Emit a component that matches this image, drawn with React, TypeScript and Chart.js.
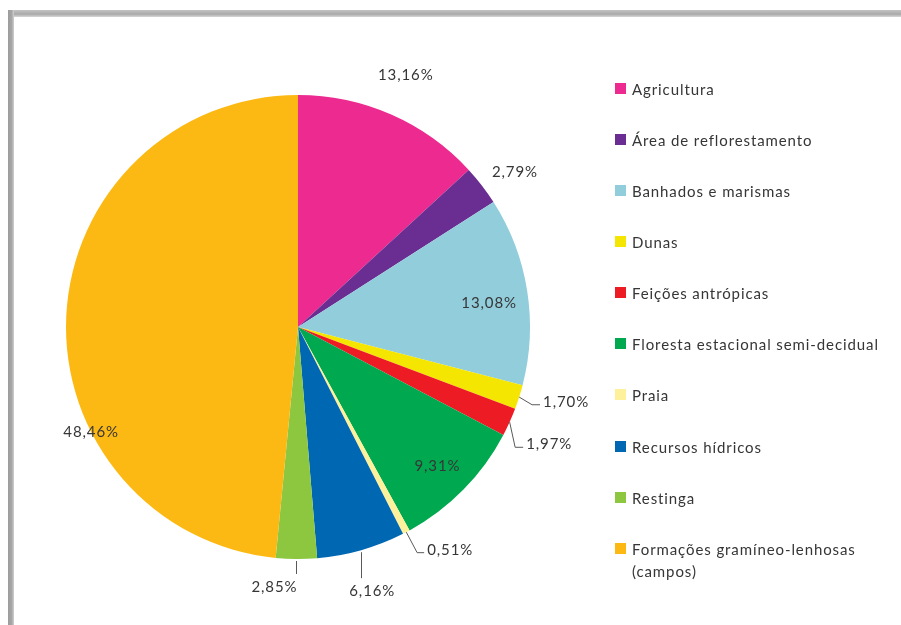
import React, { useEffect, useRef } from "react";
import { Chart, registerables } from "chart.js";

Chart.register(...registerables);

const categories = [
  "Agricultura",
  "Área de reflorestamento",
  "Banhados e marismas",
  "Dunas",
  "Feições antrópicas",
  "Floresta estacional semi-decidual",
  "Praia",
  "Recursos hídricos",
  "Restinga",
  "Formações gramíneo-lenhosas (campos)",
];
const legendLines = [
  ["Agricultura"],
  ["Área de reflorestamento"],
  ["Banhados e marismas"],
  ["Dunas"],
  ["Feições antrópicas"],
  ["Floresta estacional semi-decidual"],
  ["Praia"],
  ["Recursos hídricos"],
  ["Restinga"],
  ["Formações gramíneo-lenhosas", "(campos)"],
];
const values = [13.16, 2.79, 13.08, 1.7, 1.97, 9.31, 0.51, 6.16, 2.85, 48.46];
const valueLabels = ["13,16%", "2,79%", "13,08%", "1,70%", "1,97%", "9,31%", "0,51%", "6,16%", "2,85%", "48,46%"];
const colors = ["#ec2a8f", "#6a2d91", "#92cddc", "#f4e600", "#ed1c24", "#00a94f", "#fdf19b", "#0067b3", "#8dc63f", "#fdb913"];

// label placement styles: mode, radius factor, angle shift (deg), extra
type LabelStyle = { mode: "text" | "elbow" | "drop"; r?: number; dAng?: number; h?: number; len?: number; dx?: number };
const labelStyles: LabelStyle[] = [
  { mode: "text", r: 1.18, dAng: -0.5 },
  { mode: "text", r: 1.15, dAng: 2 },
  { mode: "text", r: 0.83, dAng: 2 },
  { mode: "elbow", r: 1.063, dAng: 0.8, h: 8 },
  { mode: "elbow", r: 1.07, dAng: 4.8, h: 8 },
  { mode: "text", r: 0.85, dAng: 0.5 },
  { mode: "elbow", r: 1.1, dAng: 0, h: 7 },
  { mode: "drop", len: 26, dx: 11 },
  { mode: "drop", len: 13, dx: -22 },
  { mode: "text", r: 1.0, dAng: -29.7 },
];

const FONT = "15px Lato, 'Open Sans', sans-serif";
const SPACING = "0.9px";
const TEXT = "#363636";
const LINE = "#595959";

const labelPlugin = {
  id: "sliceLabels",
  afterDatasetsDraw(chart: any) {
    const ctx = chart.ctx;
    const meta = chart.getDatasetMeta(0);
    ctx.save();
    ctx.font = FONT;
    try {
      (ctx as any).letterSpacing = SPACING;
    } catch (e) {}
    ctx.fillStyle = TEXT;
    ctx.strokeStyle = LINE;
    ctx.lineWidth = 1;
    meta.data.forEach((arc: any, i: number) => {
      const p = arc.getProps(["x", "y", "startAngle", "endAngle", "outerRadius"], true);
      const mid = (p.startAngle + p.endAngle) / 2;
      const st = labelStyles[i];
      const R = p.outerRadius;
      const text = valueLabels[i];
      if (st.mode === "text") {
        const a = mid + ((st.dAng || 0) * Math.PI) / 180;
        const x = p.x + Math.cos(a) * R * (st.r || 1);
        const y = p.y + Math.sin(a) * R * (st.r || 1);
        ctx.textAlign = "center";
        ctx.textBaseline = "middle";
        ctx.fillText(text, x, y);
      } else if (st.mode === "elbow") {
        const x0 = p.x + Math.cos(mid) * R;
        const y0 = p.y + Math.sin(mid) * R;
        const a = mid + ((st.dAng || 0) * Math.PI) / 180;
        const x1 = p.x + Math.cos(a) * R * (st.r || 1);
        const y1 = p.y + Math.sin(a) * R * (st.r || 1);
        const x2 = x1 + (st.h || 8);
        ctx.beginPath();
        ctx.moveTo(x0, y0);
        ctx.lineTo(x1, y1);
        ctx.lineTo(x2, y1);
        ctx.stroke();
        ctx.textAlign = "left";
        ctx.textBaseline = "middle";
        ctx.fillText(text, x2 + 3, y1 - 3);
      } else {
        const x0 = p.x + Math.cos(mid) * R;
        const y0 = p.y + Math.sin(mid) * R + 2;
        const y1 = y0 + (st.len || 12);
        ctx.beginPath();
        ctx.moveTo(Math.round(x0) + 0.5, y0);
        ctx.lineTo(Math.round(x0) + 0.5, y1);
        ctx.stroke();
        ctx.textAlign = "center";
        ctx.textBaseline = "middle";
        ctx.fillText(text, x0 + (st.dx || 0), y1 + 13);
      }
    });
    ctx.restore();
  },
};

export default function App() {
  const ref = useRef<HTMLCanvasElement>(null);
  useEffect(() => {
    document.body.style.margin = "0";
    document.body.style.overflow = "hidden";
    if (!ref.current) return;
    const chart = new Chart(ref.current, {
      type: "pie",
      data: {
        labels: categories,
        datasets: [
          {
            data: values,
            backgroundColor: colors,
            borderWidth: 0,
          },
        ],
      },
      options: {
        responsive: false,
        animation: false,
        devicePixelRatio: 1,
        layout: { padding: { left: 66, right: 371, top: 95, bottom: 66 } },
        plugins: { legend: { display: false }, tooltip: { enabled: false } },
      },
      plugins: [labelPlugin],
    });
    return () => chart.destroy();
  }, []);

  const firstY = 88.5;
  const step = 51.15;
  return (
    <div style={{ position: "fixed", left: 0, top: 0, width: 901, height: 625, background: "#fff" }}>
      <div style={{ position: "absolute", left: 8, top: 10, width: 893, height: 7, background: "linear-gradient(#c4c4c4, #a9a9a9 60%, #d8d8d8)" }} />
      <div style={{ position: "absolute", left: 8, top: 10, width: 6, height: 615, background: "linear-gradient(90deg, #9c9c9c, #a6a6a6 60%, #d0d0d0)" }} />
      <canvas ref={ref} width={901} height={625} style={{ position: "absolute", left: 0, top: 0 }} />
      {legendLines.map((lines, i) => (
        <div
          key={i}
          style={{
            position: "absolute",
            left: 615,
            top: firstY + i * step - 11,
            display: "flex",
            alignItems: "flex-start",
            font: FONT,
            letterSpacing: SPACING,
            color: TEXT,
            lineHeight: "22px",
            whiteSpace: "nowrap",
          }}
        >
          <span style={{ width: 11, height: 11, background: colors[i], marginTop: 5, marginRight: 6, flex: "none" }} />
          <span>
            {lines.map((l, j) => (
              <div key={j}>{l}</div>
            ))}
          </span>
        </div>
      ))}
    </div>
  );
}
